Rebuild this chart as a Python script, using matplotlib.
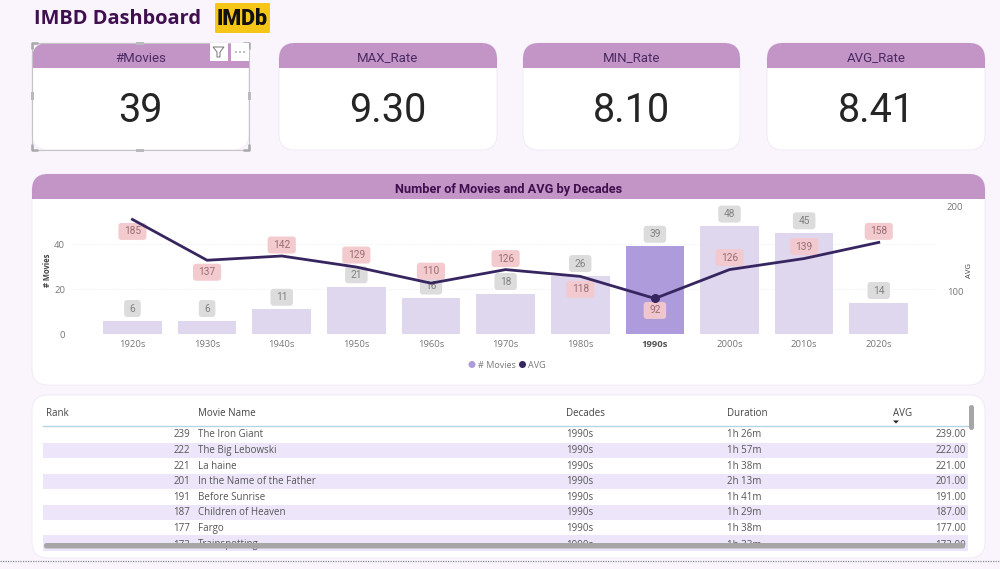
import matplotlib
matplotlib.use("Agg")
import matplotlib.pyplot as plt
from matplotlib.patches import FancyBboxPatch, Rectangle, Circle, Polygon, BoxStyle

# chart data
decades = ["1920s", "1930s", "1940s", "1950s", "1960s", "1970s", "1980s", "1990s", "2000s", "2010s", "2020s"]
movies = [6, 6, 11, 21, 16, 18, 26, 39, 48, 45, 14]
avg = [185, 137, 142, 129, 110, 126, 118, 92, 126, 139, 158]

# cards
card_titles = ["#Movies", "MAX_Rate", "MIN_Rate", "AVG_Rate"]
card_values = ["39", "9.30", "8.10", "8.41"]
card_left = [32, 279, 523, 767]
card_right = [249, 497, 740, 985]

# table
col_headers = ["Rank", "Movie Name", "Decades", "Duration", "AVG"]
ranks = [239, 222, 221, 201, 191, 187, 177, 173]
names = ["The Iron Giant", "The Big Lebowski", "La haine", "In the Name of the Father",
         "Before Sunrise", "Children of Heaven", "Fargo", "Trainspotting"]
row_decades = ["1990s"] * 8
durations = ["1h 26m", "1h 57m", "1h 38m", "2h 13m", "1h 41m", "1h 29m", "1h 38m", "1h 33m"]
row_avg = [239.00, 222.00, 221.00, 201.00, 191.00, 187.00, 177.00, 173.00]

BG = "#FAF5FD"
HEAD = "#C394C6"
DARK = "#3F0F4F"
NARROW = ["Roboto", "DejaVu Sans"]
plt.rcParams["font.family"] = ["Open Sans", "DejaVu Sans"]

fig = plt.figure(figsize=(10, 5.69), dpi=100, facecolor=BG)

# page layer in pixel coordinates
page = fig.add_axes([0, 0, 1, 1])
page.set_xlim(0, 1000)
page.set_ylim(569, 0)
page.axis("off")


def panel(x0, x1, y0, y1, r=16, header=None):
    box = FancyBboxPatch((x0, y0), x1 - x0, y1 - y0, boxstyle="round,pad=0,rounding_size=%d" % r,
                         fc="white", ec="#F3ECF6", lw=0.8, zorder=1)
    page.add_patch(box)
    if header:
        head = Rectangle((x0, y0), x1 - x0, header - y0, fc=HEAD, ec="none", zorder=2)
        page.add_patch(head)
        head.set_clip_path(box)


def label_box(x0, y0, w, h, mutation_size):
    # data labels are wider than tall, the built in pad is the same both ways
    return BoxStyle.Round(pad=0, rounding_size=0.3)(x0 - 5.5, y0 - 3.5, w + 11, h + 7, mutation_size)


page.text(34, 18.5, "IMBD Dashboard", fontsize=14.4, fontweight="bold", color=DARK, va="center")

# logo
page.add_patch(FancyBboxPatch((215, 3), 55, 30, boxstyle="round,pad=0,rounding_size=1.5", fc="#F5C518", ec="none"))
page.text(242.5, 18.5, "IMDb", fontsize=15.5, fontweight="black", color="#111111", ha="center", va="center",
          family=NARROW)

for title, value, x0, x1 in zip(card_titles, card_values, card_left, card_right):
    panel(x0, x1, 43, 150, header=68)
    page.text((x0 + x1) / 2, 58, title, fontsize=9.5, color="#4A2A63", ha="center", va="center", family=NARROW)
    page.text((x0 + x1) / 2, 110, value, fontsize=28.5, color="#252525", ha="center", va="center", family=NARROW)

# selection frame on the first card
page.add_patch(Rectangle((32, 43), 217, 107, fc="none", ec="#C4C4C8", lw=0.8, zorder=3))
for hx, hy in [(32, 43), (249, 43), (32, 150), (249, 150)]:
    sx = 1 if hx < 100 else -1
    sy = 1 if hy < 100 else -1
    page.plot([hx + sx * 6, hx, hx], [hy, hy, hy + sy * 6], color="#A8A8AC", lw=1.8, zorder=4, solid_capstyle="butt")
for hx, hy in [(140, 43), (140, 150)]:
    page.add_patch(Rectangle((hx - 4, hy - 1.5), 8, 3, fc="#BABABE", ec="none", zorder=4))
for hx, hy in [(32, 96), (249, 96)]:
    page.add_patch(Rectangle((hx - 1.5, hy - 4), 3, 8, fc="#BABABE", ec="none", zorder=4))

# filter and more icons
page.add_patch(Rectangle((210, 43), 18, 18, fc="white", ec="none", zorder=5))
page.add_patch(Rectangle((231, 43), 18, 18, fc="white", ec="none", zorder=5))
page.add_patch(Polygon([(213, 47), (224, 47), (220, 52), (220, 57), (217, 57), (217, 52)],
                       fc="white", ec="#777777", lw=0.7, zorder=6))
for dx in [236, 240, 244]:
    page.add_patch(Circle((dx, 52), 0.7, fc="#555555", ec="none", zorder=6))

# chart panel
panel(32, 985, 174, 385, r=16, header=199)
page.text(508.5, 189, "Number of Movies and AVG by Decades", fontsize=9.2, fontweight="bold", color=DARK,
          ha="center", va="center", family=NARROW)

# table panel
panel(32, 985, 395, 558, r=16)

# chart axes, y=0 sits at pixel 334 and the top at pixel 206.7
ax = fig.add_axes([72 / 1000, 1 - 334 / 569, (937 - 72) / 1000, (334 - 206.7) / 569], zorder=3)
ax.patch.set_alpha(0)
x = list(range(len(decades)))
colors = ["#AE9BDB" if d == "1990s" else "#DFD7EE" for d in decades]
ax.bar(x, movies, width=0.785, color=colors, zorder=2)
ax.set_xlim(-0.81, 10.78)
ax.set_ylim(0, 56.6)
ax.set_yticks([0, 20, 40])
ax.set_xticks(x)
ax.set_xticklabels(decades)
ax.tick_params(axis="both", length=0, labelsize=6.8, labelcolor="#777777", pad=4.5)
ax.tick_params(axis="y", pad=5)
ax.get_xticklabels()[decades.index("1990s")].set_fontweight("bold")
ax.get_xticklabels()[decades.index("1990s")].set_color("#555555")
ax.grid(axis="y", ls=(0, (1, 2)), lw=0.5, color="#E4E4E4", zorder=0)
ax.set_axisbelow(True)
for s in ax.spines.values():
    s.set_visible(False)
ax.set_ylabel("# Movies", fontsize=5.5, fontweight="bold", color="#444444", labelpad=1.5)

ax2 = ax.twinx()
ax2.patch.set_alpha(0)
ax2.set_ylim(50.2, 200)
ax2.set_yticks([100, 200])
ax2.tick_params(axis="y", length=0, labelsize=6.8, labelcolor="#777777", pad=7)
for s in ax2.spines.values():
    s.set_visible(False)
ax2.set_ylabel("AVG", fontsize=5.5, color="#444444", labelpad=2)
ax2.plot(x, avg, color="#372560", lw=2, zorder=4, solid_joinstyle="round")
sel = decades.index("1990s")
ax2.plot([sel], [avg[sel]], "o", color="#372560", ms=5.5, zorder=5)

# data labels, the line labels sit below or above the line like in the report
avg_offset = [-12, -12, 11, 12, 12, 11, -13, -12, 12, 12, 11]
for i in x:
    ax.annotate(str(movies[i]), (i, movies[i]), xytext=(0, 12), textcoords="offset pixels",
                ha="center", va="center", fontsize=7.3, color="#808080", zorder=6, family=NARROW,
                bbox=dict(boxstyle=label_box, fc="#DCDCDC", ec="none"))
    ax2.annotate(str(avg[i]), (i, avg[i]), xytext=(0, avg_offset[i]), textcoords="offset pixels",
                 ha="center", va="center", fontsize=7.3, color="#9A6E72", zorder=3, family=NARROW,
                 bbox=dict(boxstyle=label_box, fc="#F3C9CD", ec="none", alpha=0.95))

# legend
page.add_patch(Circle((472, 364.5), 3.5, fc="#AE9BDB", ec="none", zorder=3))
page.text(478, 365, "# Movies", fontsize=6.5, color="#777777", va="center", zorder=3)
page.add_patch(Circle((522.5, 364.5), 3.5, fc="#372560", ec="none", zorder=3))
page.text(528, 365, "AVG", fontsize=6.5, color="#777777", va="center", zorder=3)

# table
col_x = [46, 198, 566, 727, 893]
for label, cx in zip(col_headers, col_x):
    page.text(cx, 413, label, fontsize=7, color="#444444", va="center", zorder=3)
page.plot([43, 968], [426, 426], color="#B5D3E5", lw=1, zorder=3)
page.add_patch(Polygon([(893, 420.5), (899, 420.5), (896, 423.5)], fc="#222222", ec="none", zorder=3))

row_y = [434.7, 450.7, 466.7, 481.7, 497.7, 512.7, 528.7, 545]
clip = Rectangle((32, 427), 953, 115.5, transform=page.transData)
for i, y in enumerate(row_y):
    if i % 2 == 1:
        page.add_patch(Rectangle((43, y - 8.2) if i < 7 else (43, 535), 925, 15.6, fc="#EDE6FA", ec="none", zorder=2,
                                 clip_path=clip))
    cells = [(190, str(ranks[i]), "right"), (198, names[i], "left"), (566, row_decades[i], "left"),
             (727, durations[i], "left"), (966, "%.2f" % row_avg[i], "right")]
    for cx, txt, ha in cells:
        t = page.text(cx, y, txt, fontsize=7, color="#555555", ha=ha, va="center", zorder=3)
        t.set_clip_path(clip)

# scrollbars
page.add_patch(FancyBboxPatch((44, 543), 921, 5.5, boxstyle="round,pad=0,rounding_size=2.5", fc="#A6A6A6", ec="none", zorder=4))
page.add_patch(FancyBboxPatch((969, 405), 5, 25, boxstyle="round,pad=0,rounding_size=2.5", fc="#A6A6A6", ec="none", zorder=4))

# dotted page edge
page.plot([0, 1000], [561, 561], color="#8A8A8A", lw=0.9, ls=(0, (1, 1)), zorder=1)

fig.savefig("out.png", dpi=100, facecolor=BG)
